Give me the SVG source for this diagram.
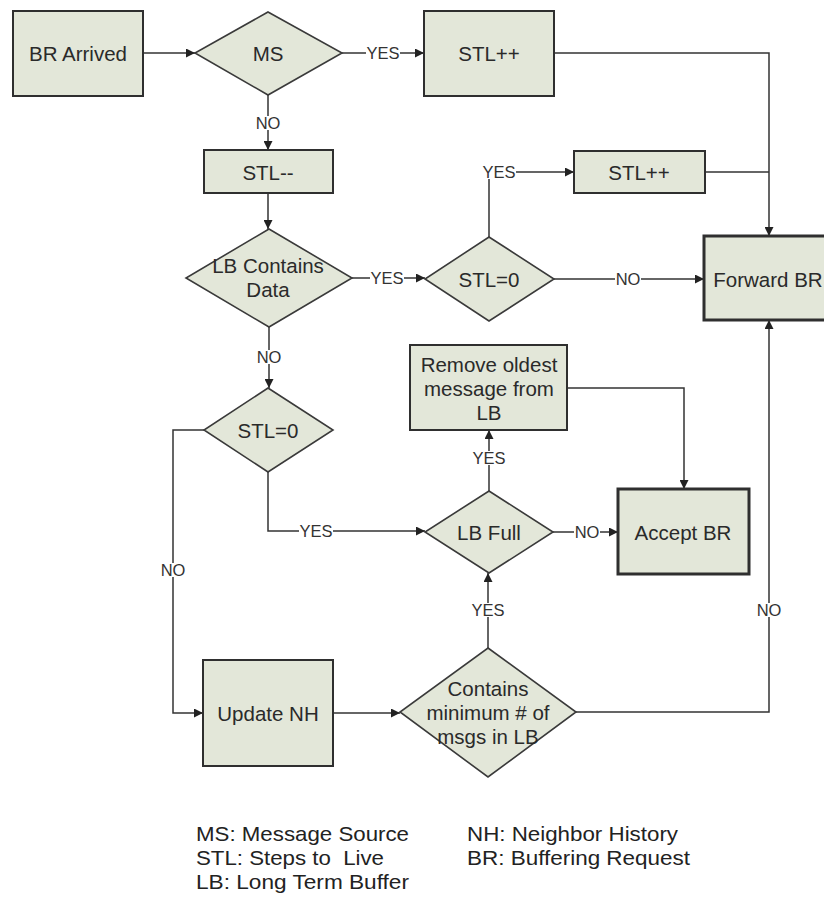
<svg xmlns="http://www.w3.org/2000/svg" width="824" height="902" viewBox="0 0 824 902">
  <style>
    .box { fill: #e3e7d9; stroke: #2f2f2f; stroke-width: 2; }
    .bold { stroke-width: 3; }
    .dia { fill: #e3e7d9; stroke: #3a3a3a; stroke-width: 1.6; }
    .t { font-family: "Liberation Sans", Arial, sans-serif; font-size: 20.5px; fill: #2a2a2a; text-anchor: middle; dominant-baseline: central; }
    .c { fill: none; stroke: #333; stroke-width: 1.5; }
    .bg { fill: #fff; }
    .lbl { font-family: "Liberation Sans", Arial, sans-serif; font-size: 16.5px; fill: #333; text-anchor: middle; dominant-baseline: central; }
    .leg { font-family: "Liberation Sans", Arial, sans-serif; font-size: 21px; fill: #222; white-space: pre; }
  </style>
  <defs>
    <marker id="arr" viewBox="0 0 10 10" refX="10" refY="5" markerWidth="9" markerHeight="9" markerUnits="userSpaceOnUse" orient="auto">
      <path d="M0,0 L10,5 L0,10 z" fill="#222"/>
    </marker>
    <!-- label backgrounds that break the connector lines -->
    <rect id="yesbg" x="-17" y="-7" width="34" height="14"/>
    <rect id="nobg" x="-13" y="-7" width="26" height="14"/>
  </defs>
  <rect width="824" height="902" fill="#fff"/>

  <!-- connectors -->
  <g id="connectors">
    <path class="c" d="M143,53 H195" marker-end="url(#arr)"/>
    <path class="c" d="M342,53 H424" marker-end="url(#arr)"/>
    <path class="c" d="M554,53 H769 V236" marker-end="url(#arr)"/>
    <path class="c" d="M705,172 H769"/>
    <path class="c" d="M268,95 V150" marker-end="url(#arr)"/>
    <path class="c" d="M268,193 V229" marker-end="url(#arr)"/>
    <path class="c" d="M352,278 H425" marker-end="url(#arr)"/>
    <path class="c" d="M489,237 V172 H574" marker-end="url(#arr)"/>
    <path class="c" d="M554,279 H704" marker-end="url(#arr)"/>
    <path class="c" d="M269,327 V388" marker-end="url(#arr)"/>
    <path class="c" d="M204,430 H173 V713 H203" marker-end="url(#arr)"/>
    <path class="c" d="M268,472 V531 H425" marker-end="url(#arr)"/>
    <path class="c" d="M489,491 V430" marker-end="url(#arr)"/>
    <path class="c" d="M553,532 H618" marker-end="url(#arr)"/>
    <path class="c" d="M567,388 H684 V489" marker-end="url(#arr)"/>
    <path class="c" d="M333,713 H400" marker-end="url(#arr)"/>
    <path class="c" d="M488,648 V573" marker-end="url(#arr)"/>
    <path class="c" d="M576,712 H769 V320" marker-end="url(#arr)"/>

    <g class="bg">
      <use href="#yesbg" x="383" y="53"/>
      <use href="#nobg" x="268" y="123"/>
      <use href="#yesbg" x="387" y="278"/>
      <use href="#yesbg" x="499" y="172"/>
      <use href="#nobg" x="628" y="279"/>
      <use href="#nobg" x="269" y="357"/>
      <use href="#nobg" x="173" y="570"/>
      <use href="#yesbg" x="316" y="531"/>
      <use href="#yesbg" x="489" y="458"/>
      <use href="#nobg" x="587" y="532"/>
      <use href="#yesbg" x="488" y="610"/>
      <use href="#nobg" x="769" y="610"/>
    </g>

    <text class="lbl" x="383" y="53">YES</text>
    <text class="lbl" x="268" y="123">NO</text>
    <text class="lbl" x="387" y="278">YES</text>
    <text class="lbl" x="499" y="172">YES</text>
    <text class="lbl" x="628" y="279">NO</text>
    <text class="lbl" x="269" y="357">NO</text>
    <text class="lbl" x="173" y="570">NO</text>
    <text class="lbl" x="316" y="531">YES</text>
    <text class="lbl" x="489" y="458">YES</text>
    <text class="lbl" x="587" y="532">NO</text>
    <text class="lbl" x="488" y="610">YES</text>
    <text class="lbl" x="769" y="610">NO</text>
  </g>

  <!-- nodes -->
  <g id="br-arrived">
    <rect class="box" x="13" y="11" width="130" height="85"/>
    <text class="t" x="78" y="53">BR Arrived</text>
  </g>
  <g id="ms">
    <polygon class="dia" points="268,12 342,53 268,95 195,53"/>
    <text class="t" x="268" y="53">MS</text>
  </g>
  <g id="stl-inc-1">
    <rect class="box" x="424" y="11" width="130" height="85"/>
    <text class="t" x="489" y="53">STL++</text>
  </g>
  <g id="stl-dec">
    <rect class="box" x="204" y="150" width="129" height="43"/>
    <text class="t" x="268" y="172">STL--</text>
  </g>
  <g id="stl-inc-2">
    <rect class="box" x="574" y="151" width="131" height="42"/>
    <text class="t" x="639" y="172">STL++</text>
  </g>
  <g id="lb-contains">
    <polygon class="dia" points="269,229 352,278 269,327 186,278"/>
    <text class="t" x="268" y="265">LB Contains</text>
    <text class="t" x="268" y="289">Data</text>
  </g>
  <g id="stl-zero-1">
    <polygon class="dia" points="489,237 554,279 489,321 425,279"/>
    <text class="t" x="489" y="279">STL=0</text>
  </g>
  <g id="forward-br">
    <rect class="box bold" x="704" y="236" width="130" height="84"/>
    <text class="t" x="768" y="279">Forward BR</text>
  </g>
  <g id="stl-zero-2">
    <polygon class="dia" points="268,388 333,430 268,472 204,430"/>
    <text class="t" x="268" y="430">STL=0</text>
  </g>
  <g id="remove-oldest">
    <rect class="box" x="410" y="345" width="157" height="85"/>
    <text class="t" x="489" y="364">Remove oldest</text>
    <text class="t" x="489" y="388">message from</text>
    <text class="t" x="489" y="412">LB</text>
  </g>
  <g id="lb-full">
    <polygon class="dia" points="489,491 553,532 489,573 425,532"/>
    <text class="t" x="489" y="532">LB Full</text>
  </g>
  <g id="accept-br">
    <rect class="box bold" x="618" y="489" width="131" height="85"/>
    <text class="t" x="683" y="532">Accept BR</text>
  </g>
  <g id="update-nh">
    <rect class="box" x="203" y="660" width="130" height="106"/>
    <text class="t" x="268" y="713">Update NH</text>
  </g>
  <g id="contains-min">
    <polygon class="dia" points="488,648 576,712 488,777 400,712"/>
    <text class="t" x="488" y="688">Contains</text>
    <text class="t" x="488" y="712">minimum # of</text>
    <text class="t" x="488" y="736">msgs in LB</text>
  </g>

  <!-- legend -->
  <g id="legend">
    <text class="leg" x="196" y="841" textLength="213" lengthAdjust="spacingAndGlyphs">MS: Message Source</text>
    <text class="leg" x="196" y="865" textLength="188" lengthAdjust="spacingAndGlyphs">STL: Steps to  Live</text>
    <text class="leg" x="196" y="889" textLength="213" lengthAdjust="spacingAndGlyphs">LB: Long Term Buffer</text>
    <text class="leg" x="467" y="841" textLength="211" lengthAdjust="spacingAndGlyphs">NH: Neighbor History</text>
    <text class="leg" x="467" y="865" textLength="223" lengthAdjust="spacingAndGlyphs">BR: Buffering Request</text>
  </g>
</svg>
